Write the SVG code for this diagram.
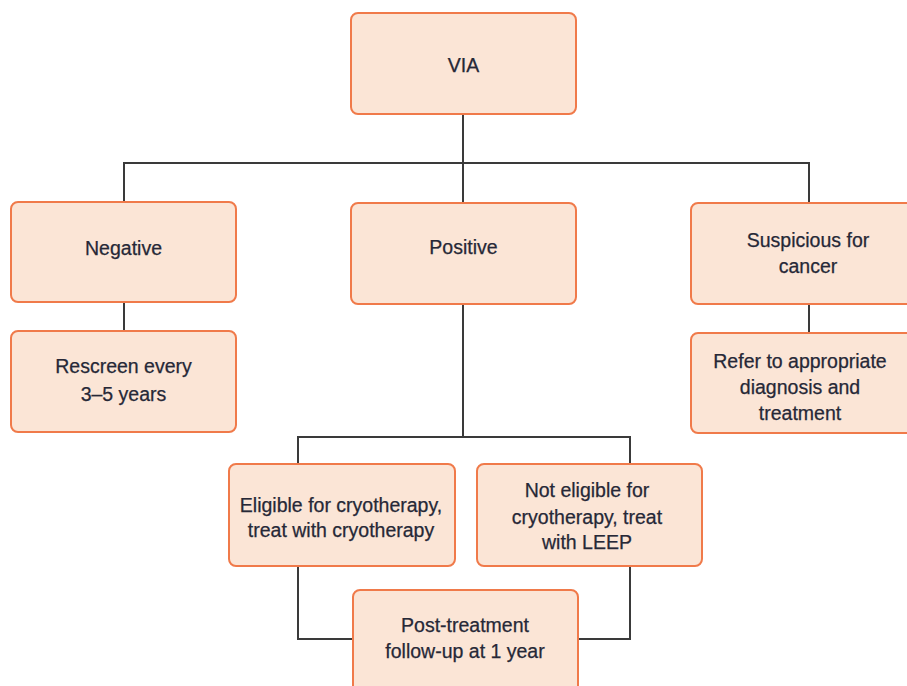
<svg xmlns="http://www.w3.org/2000/svg" width="907" height="686" viewBox="0 0 907 686">
  <style>
    .box { fill: #fbe5d6; stroke: #f07a4a; stroke-width: 2; }
    .lbl { font-family: "Liberation Sans", Arial, sans-serif; font-size: 19.5px; fill: #262837; text-anchor: middle; stroke: #262837; stroke-width: 0.25; }
    .wire { fill: none; stroke: #3a3a3a; stroke-width: 2; }
  </style>
  <rect width="907" height="686" fill="#ffffff"/>

  <g id="connectors">
    <path class="wire" d="M463 114 V203"/>
    <path class="wire" d="M124 202 V163 H809 V203"/>
    <path class="wire" d="M124 302 V331"/>
    <path class="wire" d="M809 304 V333"/>
    <path class="wire" d="M463 304 V437"/>
    <path class="wire" d="M298 464 V437 H630 V464"/>
    <path class="wire" d="M298 566 V639 H353"/>
    <path class="wire" d="M630 566 V639 H578"/>
  </g>

  <g id="via">
    <rect class="box" x="351" y="13" width="225" height="101" rx="7"/>
    <text class="lbl" x="463.5" y="72">VIA</text>
  </g>
  <g id="negative">
    <rect class="box" x="11" y="202" width="225" height="100" rx="7"/>
    <text class="lbl" x="123.5" y="255">Negative</text>
  </g>
  <g id="positive">
    <rect class="box" x="351" y="203" width="225" height="101" rx="7"/>
    <text class="lbl" x="463.5" y="254">Positive</text>
  </g>
  <g id="suspicious">
    <rect class="box" x="691" y="203" width="225" height="101" rx="7"/>
    <text class="lbl" x="808" y="247">Suspicious for</text>
    <text class="lbl" x="808" y="273">cancer</text>
  </g>
  <g id="rescreen">
    <rect class="box" x="11" y="331" width="225" height="101" rx="7"/>
    <text class="lbl" x="123.5" y="373">Rescreen every</text>
    <text class="lbl" x="123.5" y="401">3–5 years</text>
  </g>
  <g id="refer">
    <rect class="box" x="691" y="333" width="225" height="100" rx="7"/>
    <text class="lbl" x="800" y="368">Refer to appropriate</text>
    <text class="lbl" x="800" y="394">diagnosis and</text>
    <text class="lbl" x="800" y="420">treatment</text>
  </g>
  <g id="eligible">
    <rect class="box" x="229" y="464" width="226" height="102" rx="7"/>
    <text class="lbl" x="341" y="512">Eligible for cryotherapy,</text>
    <text class="lbl" x="341" y="537">treat with cryotherapy</text>
  </g>
  <g id="not-eligible">
    <rect class="box" x="477" y="464" width="225" height="102" rx="7"/>
    <text class="lbl" x="587" y="497">Not eligible for</text>
    <text class="lbl" x="587" y="524">cryotherapy, treat</text>
    <text class="lbl" x="587" y="549">with LEEP</text>
  </g>
  <g id="post-treatment">
    <rect class="box" x="353" y="590" width="225" height="110" rx="7"/>
    <text class="lbl" x="465" y="632">Post-treatment</text>
    <text class="lbl" x="465" y="658">follow-up at 1 year</text>
  </g>
</svg>
